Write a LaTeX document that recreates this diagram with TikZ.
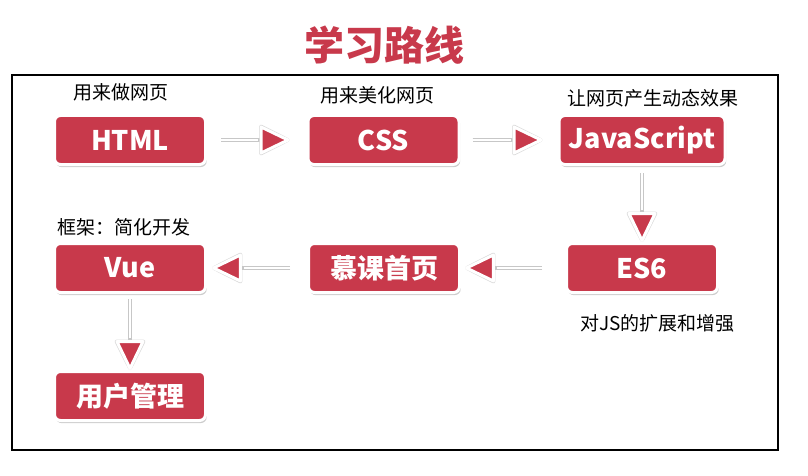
\documentclass[tikz,border=0pt]{standalone}
\usepackage{fontspec}
\setmainfont{Noto Sans CJK SC}
\usetikzlibrary{arrows.meta,shadows}
\definecolor{boxred}{RGB}{200,57,75}

\tikzset{
  stage/.style={draw=white, line width=3pt, fill=boxred, rounded corners=6pt,
    minimum width=151pt, minimum height=49pt, text=white,
    font=\fontsize{27}{30}\selectfont\bfseries,
    drop shadow={shadow xshift=1.2pt, shadow yshift=-2.6pt, fill=black!40, opacity=0.5}},
  hint/.style={font=\fontsize{19}{22}\selectfont},
  flow/.style 2 args={draw=black!22, line width=4pt, shorten <=#1, shorten >=#2,
    -{Triangle[round,length=32pt,width=30pt,fill=boxred,color=white,line width=3pt]},
    preaction={draw=black!22, line width=4pt,
      -{Triangle[round,length=33pt,width=32pt,fill=black!15,color=black!15,line width=4pt]}},
    postaction={draw=white, line width=1.8pt, -, shorten >=#2+32pt}}
}

\begin{document}
\begin{tikzpicture}[x=1pt,y=-1pt]
\useasboundingbox (0,0) rectangle (808,476);
\node[font=\fontsize{40}{44}\selectfont\bfseries, text=boxred] (title) at (384,45) {学习路线};
\draw[line width=1.5pt] (12,75) rectangle (778,450);
% top row
\node[stage] (html) at (130,140) {HTML};
\node[stage] (css) at (383.5,140) {CSS};
\node[stage, minimum width=166pt] (js) at (642,140) {JavaScript};
% second row
\node[stage] (es) at (642,268) {ES6};
\node[stage] (home) at (384,268) {慕课首页};
\node[stage] (vue) at (130,268) {Vue};
% last row
\node[stage] (admin) at (130,396) {用户管理};
% notes
\node[hint] (n1) at (121,92) {用来做网页};
\node[hint] (n2) at (377.5,95) {用来美化网页};
\node[hint] (n3) at (652.5,98) {让网页产生动态效果};
\node[hint] (n4) at (124,227) {框架：简化开发};
\node[hint] (n5) at (657.5,323) {对JS的扩展和增强};
% connectors
\draw[flow={14pt}{17pt}] (html) -- (css);
\draw[flow={12pt}{15pt}] (css) -- (js);
\draw[flow={7pt}{0pt}] (js) -- (es);
\draw[flow={23pt}{4pt}] (es) -- (home);
\draw[flow={17pt}{5pt}] (home) -- (vue);
\draw[flow={5pt}{0pt}] (vue) -- (admin);
\end{tikzpicture}
\end{document}
